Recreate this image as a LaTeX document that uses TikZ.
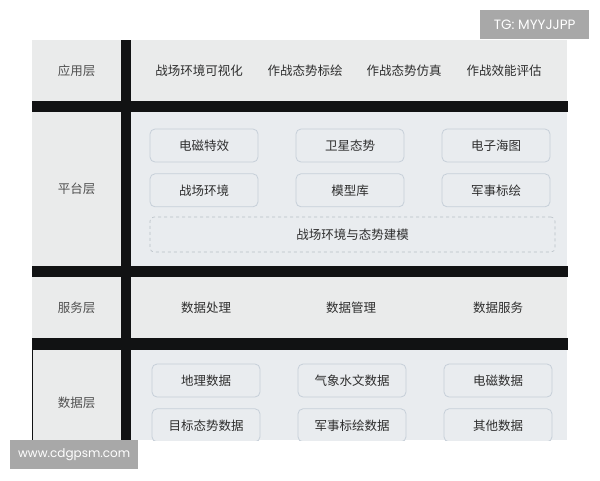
\documentclass[tikz,border=0pt]{standalone}
\usepackage{fontspec}
\setmainfont{Noto Sans CJK SC}
\newfontfamily\markfont{Poppins}
\usetikzlibrary{positioning}
\definecolor{cellgray}{HTML}{EAEBEB}
\definecolor{cellblue}{HTML}{E9ECEF}
\definecolor{boxline}{HTML}{C6CFD8}
\definecolor{bardark}{HTML}{111213}
\definecolor{markgray}{HTML}{A8A8A8}
\definecolor{txtdark}{HTML}{2E2E2E}
\definecolor{txtlayer}{HTML}{505050}
\tikzset{
  layer/.style={text=txtlayer, font=\fontsize{12.5}{15}\selectfont},
  item/.style={text=txtdark, font=\fontsize{12.5}{15}\selectfont},
  modbox/.style={item, draw=boxline, fill=cellblue, rounded corners=5pt, line width=0.8pt,
    minimum width=108pt, minimum height=33pt},
  dashbox/.style={item, draw=boxline!80!gray, dashed, rounded corners=4pt, line width=0.6pt,
    minimum width=405pt, minimum height=35pt},
  wmark/.style={fill=markgray, text=white, font=\markfont\fontsize{12}{14}\selectfont,
    inner sep=0pt, anchor=north west}
}
\begin{document}
\begin{tikzpicture}[x=1pt, y=-1pt]
\useasboundingbox (0,0) rectangle (600,480);
\begin{scope}
\clip (0,0) rectangle (600,440);
\fill[cellgray] (32,40) rectangle (121,101);
\fill[cellgray] (131,40) rectangle (567,101);
\fill[cellgray] (32,112) rectangle (121,266);
\fill[cellblue] (131,112) rectangle (567,266);
\fill[cellgray] (32,277) rectangle (121,338);
\fill[cellgray] (131,277) rectangle (567,338);
\fill[cellgray] (32,350) rectangle (121,440);
\fill[cellblue] (131,350) rectangle (567,440);
\fill[bardark] (121,40) rectangle (131,440);
\fill[bardark] (32,101) rectangle (568,112);
\fill[bardark] (32,266) rectangle (568,277);
\fill[bardark] (32,338) rectangle (568,350);
\draw[bardark, line width=1pt] (32.5,350) -- (32.5,440);

\node[layer] (app) at (76.5,70.5) {应用层};
\node[item] (app1) at (199,70.5) {战场环境可视化};
\node[item] (app2) at (305,70.5) {作战态势标绘};
\node[item] (app3) at (404,70.5) {作战态势仿真};
\node[item] (app4) at (504,70.5) {作战效能评估};

\node[layer] (plat) at (76.5,189) {平台层};
\node[modbox] (em) at (204,145.5) {电磁特效};
\node[modbox] (sat) at (350,145.5) {卫星态势};
\node[modbox] (chart) at (496,145.5) {电子海图};
\node[modbox, below=11pt of em] (env) {战场环境};
\node[modbox, below=11pt of sat] (lib) {模型库};
\node[modbox, below=11pt of chart] (mark) {军事标绘};
\node[dashbox] (model) at (352.5,234.5) {战场环境与态势建模};

\node[layer] (serv) at (76.5,308) {服务层};
\node[item] (proc) at (206,308) {数据处理};
\node[item] (mgmt) at (351,308) {数据管理};
\node[item] (svc) at (498,308) {数据服务};

\node[layer] (data) at (76.5,403) {数据层};
\node[modbox] (geo) at (206,380.5) {地理数据};
\node[modbox] (met) at (352,380.5) {气象水文数据};
\node[modbox] (emd) at (498,380.5) {电磁数据};
\node[modbox, below=11pt of geo] (tgt) {目标态势数据};
\node[modbox, below=11pt of met] (mil) {军事标绘数据};
\node[modbox, below=11pt of emd] (oth) {其他数据};
\end{scope}

\node[wmark, font=\markfont\fontsize{13.5}{16}\selectfont, minimum width=109pt, minimum height=29pt] (tg) at (480,10) {TG: MYYJJPP};
\node[wmark, minimum width=128pt, minimum height=29pt] (www) at (10,440) {www.cdgpsm.com};
\end{tikzpicture}
\end{document}
